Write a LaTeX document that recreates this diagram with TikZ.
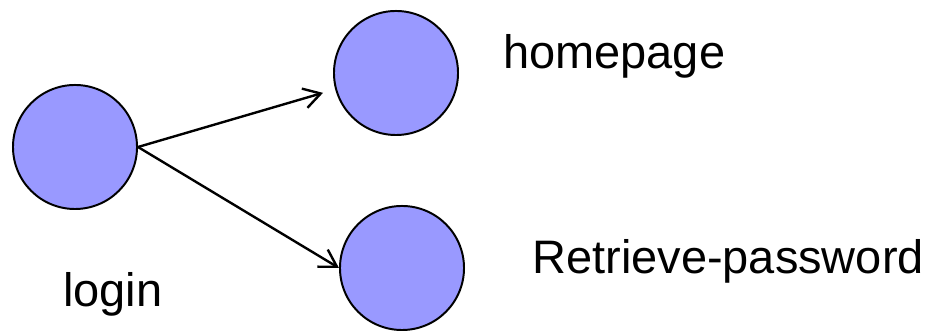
\documentclass[tikz,border=0pt]{standalone}
\usepackage{fontspec}
\setmainfont{Liberation Sans}
\usetikzlibrary{arrows.meta}
\definecolor{pagefill}{RGB}{153,153,255}

\begin{document}
\begin{tikzpicture}[x=0.025cm, y=0.025cm, >={Straight Barb[length=0.42cm, width=0.5cm]}]

    % estilos
    \tikzstyle{page}=[circle, draw, line width=1.4pt, fill=pagefill, minimum size=3.1cm, inner sep=0pt]
    \tikzstyle{rotulo}=[anchor=base west, inner sep=0pt, font=\fontsize{33.4}{40}\selectfont]
    \tikzstyle{link}=[->, line width=1.7pt]

    \useasboundingbox (0,0) rectangle (928,333);

    % paginas
    \node[page] (login)    at (75,186)  {};
    \node[page] (homepage) at (396,260) {};
    \node[page] (retrieve) at (402,65)  {};

    % rotulos
    \node[rotulo] (loginlbl)    at (63,26)   {login};
    \node[rotulo] (homepagelbl) at (503,264) {homepage};
    \node[rotulo] (retrievelbl) at (532,59)  {Retrieve-password};

    % ligacoes
    \draw[link, shorten >=9] (login.east) -- (homepage.195);
    \draw[link] (login.east) -- (retrieve.west);

\end{tikzpicture}
\end{document}
